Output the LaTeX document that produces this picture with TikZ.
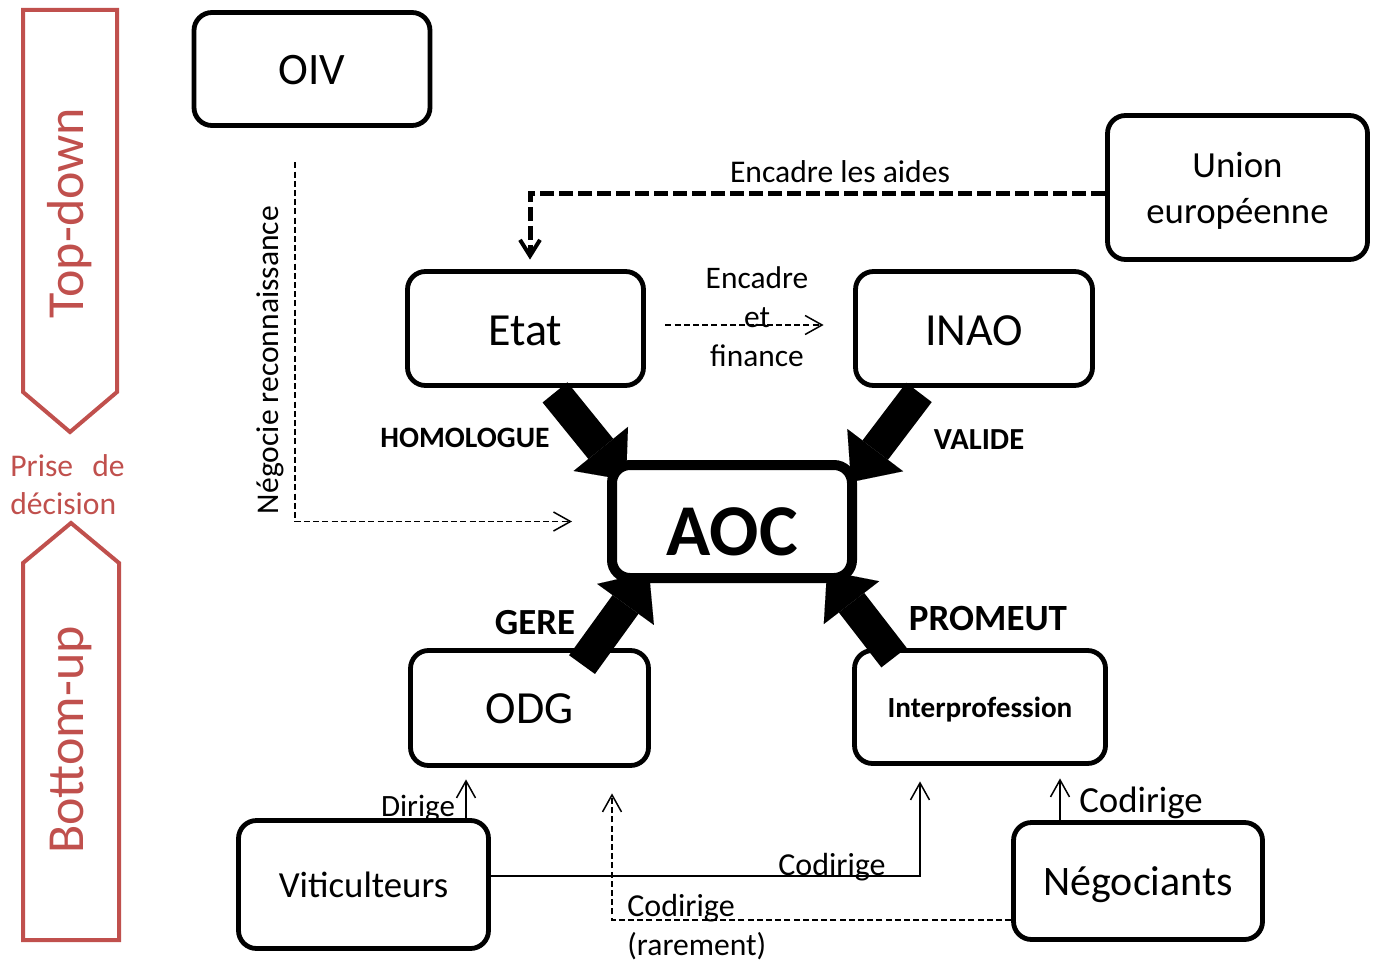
\documentclass[tikz,border=0pt]{standalone}
\usepackage{fontspec}
\setmainfont{Carlito}
\usetikzlibrary{arrows.meta,calc}
\definecolor{accred}{HTML}{C0504D}
\newcommand\fsz[2]{\fontsize{#1}{#2}\selectfont}
\newcommand\dnshift[2]{\raisebox{-#1}[\height][\depth]{#2}}
\begin{document}
\begin{tikzpicture}[x=0.5pt,y=-0.5pt,
  box/.style={draw, line width=2.4pt, rounded corners=9pt, fill=white, inner sep=0pt, align=center},
  bigarrow/.style={line width=16pt, -{Triangle[length=20pt,width=35pt,line width=0.01pt]}},
  eudash/.style={line width=2.5pt, dash pattern=on 7pt off 2.5pt, -{Straight Barb[length=8pt,width=10pt,line width=2pt]}},
  thindash/.style={line width=0.75pt, dash pattern=on 3pt off 1.6pt, -{Straight Barb[length=8.5pt,width=9.5pt,line width=0.75pt]}},
  thinarrow/.style={line width=0.75pt, -{Straight Barb[length=8.5pt,width=9.5pt,line width=0.75pt]}},
  lbl/.style={inner sep=0pt},
  redshape/.style={draw=accred, line width=2pt},
]
\useasboundingbox (0,0) rectangle (1380,963);

% left side
\draw[redshape] (23,10) -- (117,10) -- (117,392) -- (70,432) -- (23,392) -- cycle;
\draw[redshape] (23,940) -- (119,940) -- (119,563) -- (71,523) -- (23,563) -- cycle;
\node[lbl, rotate=90, text=accred, font=\fsz{26}{30}] (td) at (70,213) {Top-down};
\node[lbl, rotate=90, text=accred, font=\fsz{26}{30}] (bu) at (71,740) {Bottom-up};
\node[lbl, anchor=base west, text=accred, font=\fsz{15.8}{19}] (pr1) at (10,476) {Prise};
\node[lbl, anchor=base east, text=accred, font=\fsz{15.8}{19}] (pr2) at (125,476) {de};
\node[lbl, anchor=base west, text=accred, font=\fsz{15.8}{19}] (pr3) at (10,514) {décision};

% boxes
\node[box, minimum width=118pt, minimum height=56.5pt, font=\fsz{22.5}{27}] (oiv) at (312,69) {\dnshift{0.5pt}{OIV}};
\node[box, minimum width=130pt, minimum height=72pt, font=\fsz{18.4}{23}] (union) at (1237.5,187.5) {\dnshift{2pt}{\begin{tabular}{@{}c@{}}Union\\européenne\end{tabular}}};
\node[box, minimum width=118pt, minimum height=57pt, font=\fsz{23}{27}] (etat) at (525.5,328.5) {\dnshift{1pt}{Etat}};
\node[box, minimum width=118.5pt, minimum height=57pt, font=\fsz{23}{27}] (inao) at (974,328.5) {\dnshift{1pt}{INAO}};
\node[box, minimum width=119pt, minimum height=57.5pt, font=\fsz{23}{27}] (odg) at (529.5,708) {\dnshift{0.5pt}{ODG}};
\node[box, minimum width=125.5pt, minimum height=56.5pt, font=\bfseries\fsz{14.6}{18}] (interp) at (980,707) {\dnshift{1.5pt}{Interprofession}};
\node[box, minimum width=125pt, minimum height=64pt, font=\fsz{18.4}{22}] (vit) at (363.5,884.5) {Viticulteurs};
\node[box, minimum width=124.5pt, minimum height=58.5pt, font=\fsz{21}{25}] (neg) at (1138,881) {\dnshift{2pt}{Négociants}};

% big arrows
\draw[bigarrow] ([xshift=14.75pt,yshift=-2.25pt]etat.south) -- ([xshift=-53pt,yshift=20.75pt]732,521.5);
\draw[bigarrow] ([xshift=-27.5pt,yshift=-2.25pt]inao.south) -- ([xshift=59.5pt,yshift=19.75pt]732,521.5);
\draw[bigarrow] ([xshift=26.25pt,yshift=-8.25pt]odg.north) -- ([xshift=-41.5pt,yshift=-25.25pt]732,521.5);
\draw[bigarrow] ([xshift=-43pt,yshift=-4.75pt]interp.north) -- ([xshift=47.5pt,yshift=-24.75pt]732,521.5);

% AOC on top
\node[box, line width=5pt, minimum width=120pt, minimum height=56.5pt, font=\bfseries\fsz{36.5}{40}] (aoc) at (732,521.5) {\dnshift{5pt}{AOC}};

\node[lbl, font=\bfseries\fsz{14.8}{18}] (lh) at (465,438) {HOMOLOGUE};
\node[lbl, font=\bfseries\fsz{15.3}{18}] (lv) at (979,440) {VALIDE};
\node[lbl, font=\bfseries\fsz{18.4}{22}] (lg) at (535,623) {GERE};
\node[lbl, font=\bfseries\fsz{18.5}{22}] (lp) at (988,618) {PROMEUT};

% EU -> Etat
\draw[eudash] ([yshift=-2.75pt]union.west) -| ([xshift=2.25pt,yshift=4.75pt]etat.north);
\node[lbl, font=\fsz{15.8}{19}] (la) at (840,172) {Encadre les aides};

% OIV -> AOC
\draw[thindash] ([xshift=-8.5pt,yshift=-17.25pt]oiv.south) |- ([xshift=-17.5pt]aoc.west);
\node[lbl, rotate=90, font=\fsz{15.8}{19}] (ln) at (270,360) {Négocie reconnaissance};

% Etat -> INAO
\draw[thindash] ([xshift=9.75pt,yshift=1.75pt]etat.east) -- ([xshift=-14.75pt,yshift=1.75pt]inao.west);
\node[lbl, align=center, font=\fsz{15.7}{19.5}] (lef) at (757,317) {Encadre\\et\\finance};

% bottom connectors
\draw[thinarrow] ([xshift=51.25pt]vit.north) -- ([xshift=-31.75pt,yshift=-5.75pt]odg.south);
\node[lbl, font=\fsz{15.5}{19}] (ld) at (418,808) {Dirige};

\draw[thinarrow] ([yshift=4.25pt]vit.east) -| ([xshift=-30pt,yshift=-7.75pt]interp.south);
\node[lbl, font=\fsz{16}{19}] (lc1) at (832,867) {Codirige};

\draw[thindash] ([yshift=-19.5pt]neg.west) -| ([xshift=41.25pt,yshift=-12.75pt]odg.south);
\node[lbl, anchor=west, font=\fsz{16}{19}] (lc2) at (627,908) {Codirige};
\node[lbl, anchor=west, font=\fsz{15.8}{19}] (lr) at (627,946) {(rarement)};

\draw[thinarrow] ([xshift=-39pt]neg.north) -- ([xshift=40pt,yshift=-6.25pt]interp.south);
\node[lbl, font=\fsz{18.4}{22}] (lc3) at (1141,803) {Codirige};
\end{tikzpicture}
\end{document}
